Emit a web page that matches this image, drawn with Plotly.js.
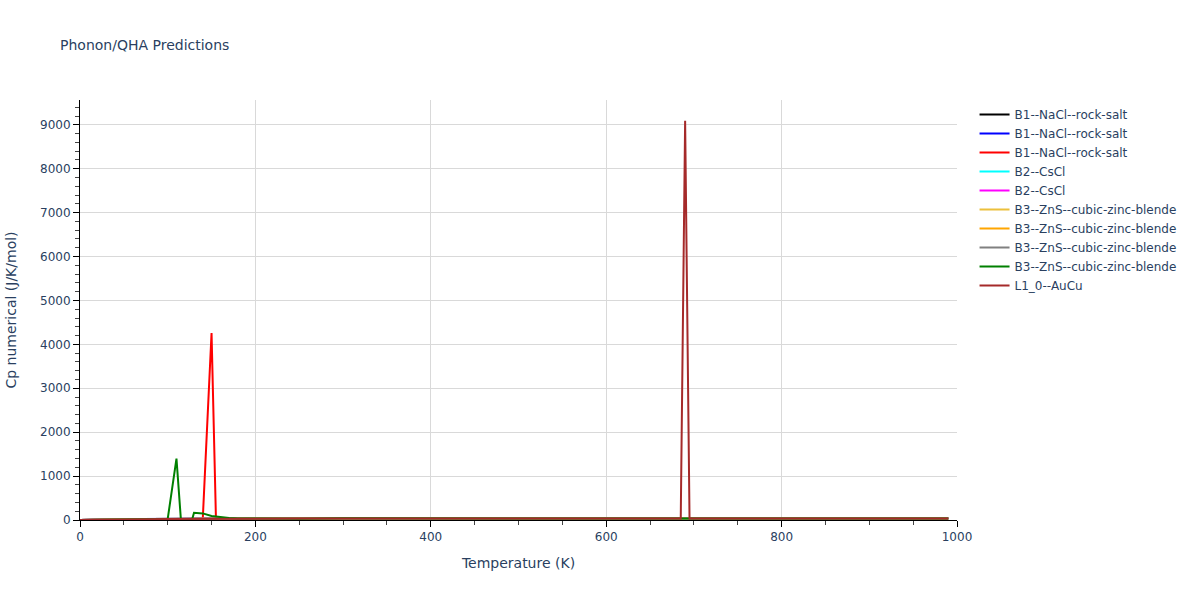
<!DOCTYPE html>
<html>
<head>
<meta charset="utf-8">
<script src="https://cdn.plot.ly/plotly-3.0.1.min.js"></script>
<style>html,body{margin:0;padding:0;background:#fff;}#chart{width:1200px;height:600px;}</style>
</head>
<body>
<div id="chart"></div>
<script>
// Shared temperature grid for the near-baseline traces (K)
const T_base = [0,10,20,30,40,50,60,70,80,100,120,150,200,250,300,350,400,450,500,550,600,650,700,750,800,850,900,950,990];

const cp_black   = [0,0.4,2,5.5,10,14,17.5,20,23,27,29.5,31.5,33,34,34.5,34.8,35,35.2,35.4,35.6,35.8,36,36.2,36.4,36.6,36.8,37,37.2,37.4];
const cp_blue    = [0,0.4,2.4,6.3,10.5,14.7,18,21,23,26.6,29.4,31.5,33,33.6,34.2,34.4,34.7,35,35.1,35.3,35.4,35.6,35.7,35.8,36,36.1,36.3,36.4,36.5];
const cp_cyan    = [0,0.3,1.8,5,9,12.6,16,19,21,25,28,30.8,32.5,33.4,34,34.3,34.5,34.7,34.9,35,35.2,35.3,35.5,35.6,35.8,35.9,36,36.2,36.3];
const cp_magenta = [0,0.3,1.8,5,9,12.6,16,19,21.3,25.2,28.3,30.8,32.6,33.5,34,34.3,34.6,34.8,35,35.1,35.3,35.4,35.6,35.7,35.8,36,36.1,36.3,36.4];
const cp_gold    = [0,0.2,1.4,4.2,7.7,11.2,14.7,17.5,19.6,23.8,27.3,30,32.2,33.2,33.8,34.2,34.4,34.6,34.9,35,35.1,35.3,35.4,35.6,35.7,35.8,36,36.1,36.3];
const cp_orange  = [0,0.2,1.5,4.3,7.7,11.2,14.7,17.5,20,23.8,27.3,30,32.2,33.2,33.8,34.2,34.4,34.6,34.9,35,35.1,35.3,35.4,35.6,35.7,35.8,36,36.1,36.3];
const cp_gray    = [0,0.2,1.5,4.5,8,11.5,15,17.8,20.3,24.1,27.6,30.4,32.3,33.3,33.9,34.2,34.5,34.7,34.9,35.1,35.2,35.4,35.5,35.6,35.8,35.9,36,36.2,36.3];

// B1 (red) trace with its spike near 150 K
const T_red  = [0,10,20,30,40,50,60,70,80,100,120,140,150,155,160,180,200,250,300,350,400,450,500,550,600,650,700,750,800,850,900,950,990];
const cp_red = [0,0.7,3.5,7.7,12,15.4,19,21,23,26,28,29.4,4260,30.8,31.5,32.2,32.9,33.6,34.3,34.6,35,35.2,35.4,35.7,35.9,36.1,36.4,36.6,36.8,37.1,37.3,37.5,37.8];

// B3 (green) trace with its spike near 110 K and bump from 130 K
const T_green  = [0,10,20,30,40,50,60,70,80,90,100,110,115,120,128,130,140,150,160,170,180,200,250,300,350,400,450,500,550,600,650,700,750,800,850,900,950,990];
const cp_green = [0,0.7,2.8,6.3,9.8,13.3,16,18.2,20.3,21.7,23,1400,22,22,22,165,150,90,65,45,32,28,30.8,38,33,33.6,34,34.3,34.6,35,35.2,37,35.7,35.9,36.1,36.4,36.6,36.8];

// L1_0 (brown) trace with its spike near 690 K
const T_brown  = [0,10,20,30,40,50,60,70,80,100,120,150,200,250,300,350,400,450,500,550,600,650,680,685,690,695,700,750,800,850,900,950,990];
const cp_brown = [0,0.4,2,5,8.4,12,14.7,17.5,19.6,23,26,28.7,31.5,33,33.6,34,34.3,34.5,34.7,34.9,35.1,35.3,35.4,35.4,9090,35.4,35.5,35.7,35.9,36.1,36.3,36.5,36.8];

const names  = ['B1--NaCl--rock-salt','B1--NaCl--rock-salt','B1--NaCl--rock-salt','B2--CsCl','B2--CsCl',
                'B3--ZnS--cubic-zinc-blende','B3--ZnS--cubic-zinc-blende','B3--ZnS--cubic-zinc-blende','B3--ZnS--cubic-zinc-blende','L1_0--AuCu'];
const colors = ['black','blue','red','cyan','magenta','#ecc03c','orange','gray','green','brown'];
const xs = [T_base,T_base,T_red,T_base,T_base,T_base,T_base,T_base,T_green,T_brown];
const ys = [cp_black,cp_blue,cp_red,cp_cyan,cp_magenta,cp_gold,cp_orange,cp_gray,cp_green,cp_brown];

const data = names.map((n,i)=>({
  type:'scatter', mode:'lines', name:n, x:xs[i], y:ys[i],
  line:{color:colors[i], width:2}
}));

const layout = {
  width:1200, height:600,
  font:{family:'Verdana, "DejaVu Sans", sans-serif', size:12, color:'#2a3f5f'},
  paper_bgcolor:'white', plot_bgcolor:'white',
  margin:{l:80, r:243, t:100, b:80},
  title:{text:'Phonon/QHA Predictions', x:0.05, xanchor:'left', font:{size:14, color:'#2a3f5f'}},
  xaxis:{
    title:{text:'Temperature (K)', font:{size:14}, standoff:14},
    range:[0,1000], dtick:200, tick0:0,
    showline:true, linecolor:'black', linewidth:1,
    ticks:'outside', ticklen:6, tickcolor:'black',
    showgrid:true, gridcolor:'#d9d9d9', zeroline:false,
    minor:{dtick:50, ticks:'outside', ticklen:4, tickcolor:'#444', showgrid:false}
  },
  yaxis:{
    title:{text:'Cp numerical (J/K/mol)', font:{size:14}, standoff:20},
    range:[0,9565], dtick:1000, tick0:0,
    showline:true, linecolor:'black', linewidth:1,
    ticks:'outside', ticklen:6, tickcolor:'black',
    showgrid:true, gridcolor:'#d9d9d9', zeroline:false,
    minor:{dtick:200, ticks:'outside', ticklen:4, tickcolor:'#444', showgrid:false}
  },
  legend:{font:{size:12}, bgcolor:'rgba(0,0,0,0)'},
  showlegend:true
};

Plotly.newPlot('chart', data, layout, {displayModeBar:false});
</script>
</body>
</html>
